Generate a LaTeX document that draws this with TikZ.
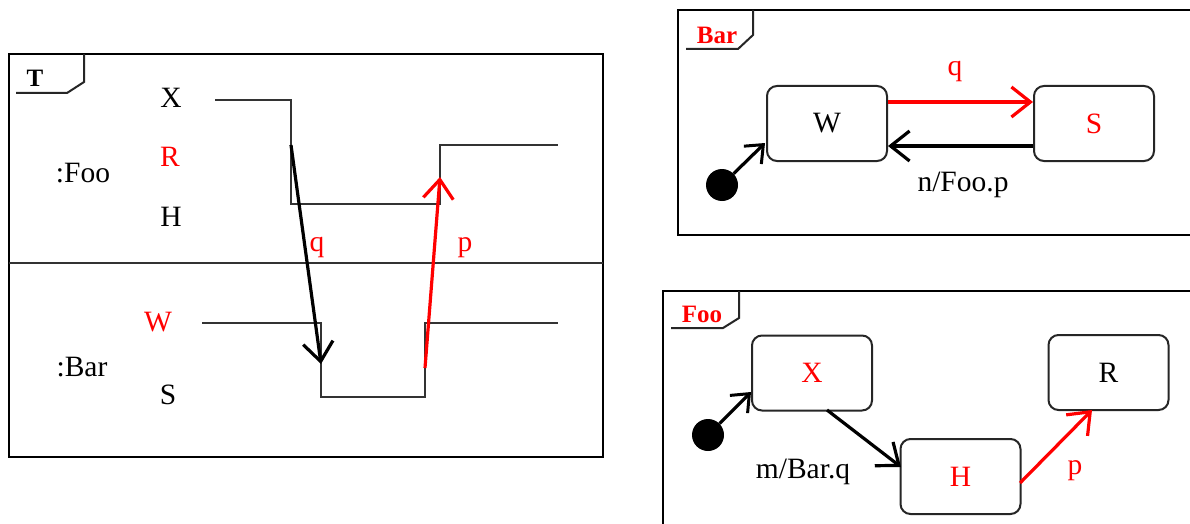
\documentclass[tikz,border=0pt]{standalone}
\usepackage{fontspec}
\setmainfont{Liberation Serif}
\usetikzlibrary{arrows.meta,calc}
\definecolor{tred}{RGB}{255,0,0}
\tikzset{
  frame/.style={draw=black,line width=2.6pt},
  tabline/.style={draw=black!85,line width=2pt},
  tabtitle/.style={font=\fontsize{25}{27}\selectfont\bfseries,inner sep=0pt},
  lbl/.style={font=\fontsize{29.5}{31}\selectfont,inner sep=0pt},
  stbox/.style={draw=black!85,line width=2pt,rounded corners=10pt,minimum width=120pt,minimum height=75pt,inner sep=0pt,font=\fontsize{29.5}{31}\selectfont},
  timel/.style={draw=black!80,line width=2pt},
  trans/.style={line width=3.2pt,-{Straight Barb[length=19pt,width=30pt,line width=3.2pt]}},
  initdot/.style={circle,fill=black,minimum size=32pt,inner sep=0pt},
}
\begin{document}
\begin{tikzpicture}[x=1pt,y=-1pt]
\path[use as bounding box] (0,0) rectangle (1190,524);
\clip (0,0) rectangle (1190,524);
\fill[white] (0,0) rectangle (1190,524);

% ===== Timing diagram T =====
\draw[frame] (9,54) rectangle (603,457);
\draw[tabline] (16,93) -- (67,93) -- (84,82) -- (84,54);
\node[tabtitle] (tT) at (35,78) {T};
\draw[line width=1.8pt,black!80] (9,263) -- (603,263);

\node[lbl] (lFoo) at (83,173) {:Foo};
\node[lbl] (lX) at (171,98) {X};
\node[lbl,text=tred] (lR) at (170,157) {R};
\node[lbl] (lH) at (171,217) {H};
\node[lbl] (lBar) at (82,367) {:Bar};
\node[lbl,text=tred] (lW) at (158,322) {W};
\node[lbl] (lS) at (168,395) {S};

% Foo timeline
\draw[timel] (215,100) -- (291,100) -- (291,204) -- (440,204) -- (440,145) -- (558,145);
% Bar timeline
\draw[timel] (202,323) -- (321,323) -- (321,397) -- (425,397) -- (425,323) -- (558,323);

\coordinate (qs) at (291,145);
\coordinate (qe) at (321,364);
\coordinate (ps) at (425,368);
\coordinate (pe) at (440,177);
\draw[trans,black] (qs) -- (qe);
\draw[trans,tred] (ps) -- (pe);
\node[lbl,text=tred] (lq) at (317,248) {q};
\node[lbl,text=tred] (lp) at (465,248) {p};

% ===== Bar state machine =====
\draw[frame] (678,10) rectangle (1210,235);
\draw[tabline] (686,49) -- (738,49) -- (753,35) -- (753,10);
\node[tabtitle,text=tred] (tBar) at (717,35) {Bar};

\node[stbox] (W) at (827,123.5) {W};
\node[stbox,text=tred] (S) at (1094,123.5) {S};
\node[initdot] (dB) at (722,185) {};
\coordinate (wIn) at (765,143);
\draw[trans,black,-{Straight Barb[length=15pt,width=25pt,line width=3pt]}] (dB) -- (wIn);

\coordinate (qy) at (0,102);
\coordinate (ny) at (0,146);
\draw[trans,tred] (W.east |- qy) -- (S.west |- qy);
\draw[trans,black] (S.west |- ny) -- (W.east |- ny);
\node[lbl,text=tred] (lq2) at (955,72) {q};
\node[lbl] (lnf) at (963,185) {n/Foo.p};

% ===== Foo state machine =====
\draw[frame] (663,291) rectangle (1210,560);
\draw[tabline] (671,328) -- (723,328) -- (739,318) -- (739,291);
\node[tabtitle,text=tred] (tFoo) at (702,314) {Foo};

\node[stbox,text=tred] (X) at (812,373) {X};
\node[stbox,text=tred] (H) at (960.5,476.5) {H};
\node[stbox] (R) at (1108.5,372.5) {R};
\node[initdot] (dF) at (708,435) {};
\coordinate (xIn) at (751,392);
\draw[trans,black,-{Straight Barb[length=15pt,width=25pt,line width=3pt]}] (dF) -- (xIn);

\coordinate (xOut) at (827,410);
\coordinate (hIn) at (901,467);
\draw[trans,black] (xOut) -- (hIn);
\coordinate (hOut) at (1020,483);
\coordinate (rIn) at (1092,410);
\draw[trans,tred] (hOut) -- (rIn);
\node[lbl] (lmb) at (803,472) {m/Bar.q};
\node[lbl,text=tred] (lp2) at (1075,471) {p};
\end{tikzpicture}
\end{document}
